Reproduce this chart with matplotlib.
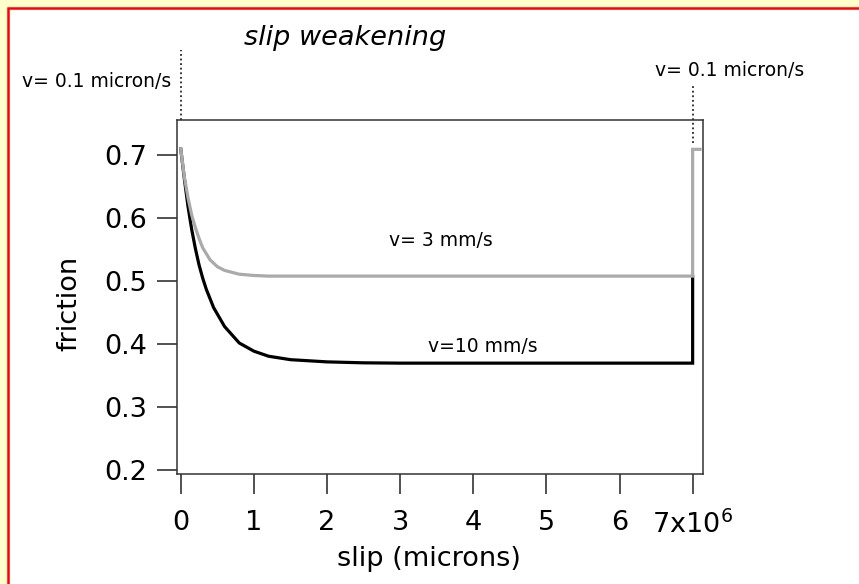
import matplotlib
matplotlib.use("Agg")
import matplotlib.pyplot as plt
from matplotlib.patches import Rectangle

# slip in units of 1e6 microns, friction
slip_3mm = [0, 0.05, 0.1, 0.15, 0.2, 0.25, 0.3, 0.4, 0.5, 0.6, 0.8, 1.0, 1.2, 1.5, 7.0, 7.0, 7.1]
fric_3mm = [0.71, 0.665, 0.632, 0.605, 0.585, 0.568, 0.553, 0.534, 0.523, 0.517, 0.511, 0.509, 0.508, 0.508, 0.508, 0.709, 0.709]

slip_10mm = [0, 0.05, 0.1, 0.15, 0.2, 0.25, 0.3, 0.35, 0.45, 0.6, 0.8, 1.0, 1.2, 1.5, 2.0, 2.5, 3.0, 7.0, 7.0]
fric_10mm = [0.71, 0.662, 0.618, 0.582, 0.552, 0.526, 0.505, 0.487, 0.458, 0.428, 0.402, 0.389, 0.381, 0.3755, 0.372, 0.3705, 0.370, 0.370, 0.507]

xticks = [0, 1, 2, 3, 4, 5, 6, 7]
xtick_labels = ['0', '1', '2', '3', '4', '5', '6', r'7x10$^6$']
yticks = [0.2, 0.3, 0.4, 0.5, 0.6, 0.7]

fig = plt.figure(figsize=(8.59, 5.84), dpi=100, facecolor='#FFFFCC')
# white panel with red frame, kept behind the axes
fig.patches.append(Rectangle((7.5 / 859, -0.02), 1.05, 1 - 7.5 / 584 + 0.02,
                             transform=fig.transFigure, facecolor='white',
                             edgecolor='red', lw=1.8, zorder=-10))

ax = fig.add_axes([0.2057, 0.1892, 0.6123, 0.6053])
ax.plot(slip_10mm, fric_10mm, color='black', lw=2.3, solid_joinstyle='miter')
ax.plot(slip_3mm, fric_3mm, color='#AAAAAA', lw=2.3, solid_joinstyle='miter')

ax.set_xlim(-0.055, 7.137)
ax.set_ylim(0.195, 0.7555)
ax.set_xticks(xticks)
ax.set_xticklabels(xtick_labels)
ax.set_yticks(yticks)
ax.set_yticklabels(['%.1f' % v for v in yticks])

for s in ax.spines.values():
    s.set_linewidth(1.1)
    s.set_color('#333333')
ax.tick_params(axis='both', direction='out', length=14.5, width=1.2,
               color='#333333', labelsize=19.5)
ax.tick_params(axis='x', pad=12)
ax.tick_params(axis='y', pad=7)

ax.set_xlabel('slip (microns)', fontsize=19.5)
ax.xaxis.set_label_coords(0.48, -0.205)
ax.set_ylabel('friction', fontsize=19.5)
ax.yaxis.set_label_coords(-0.18, 0.48)

# velocity labels on the curves
ax.text(3.56, 0.565, 'v= 3 mm/s', fontsize=13.5, ha='center', va='center')
ax.text(4.13, 0.397, 'v=10 mm/s', fontsize=13.5, ha='center', va='center')

# velocity steps, dotted markers above the frame
ax.plot([0, 0], [0.7555, 0.866], ls=(0, (1.2, 1.8)), color='black', lw=1.1, clip_on=False)
ax.plot([7, 7], [0.719, 0.811], ls=(0, (1.2, 1.8)), color='black', lw=1.1, clip_on=False)
fig.text(97 / 859, 1 - 81 / 584, 'v= 0.1 micron/s', fontsize=13.5, ha='center', va='center')
fig.text(730 / 859, 1 - 71 / 584, 'v= 0.1 micron/s', fontsize=13.5, ha='center', va='center')

fig.text(345 / 859, 1 - 38 / 584, 'slip weakening', fontsize=19.5, style='italic',
         ha='center', va='center')

fig.savefig('out.png', dpi=100, facecolor=fig.get_facecolor())
